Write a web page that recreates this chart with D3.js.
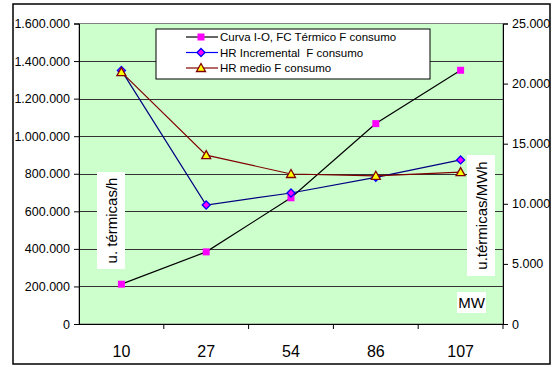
<!DOCTYPE html>
<html>
<head>
<meta charset="utf-8">
<script src="https://cdn.jsdelivr.net/npm/d3@7"></script>
<style>
  html, body { margin: 0; padding: 0; background: #fff; }
  svg { display: block; font-family: "Liberation Sans", Arial, sans-serif; }
  text { white-space: pre; }
</style>
</head>
<body>
<svg id="chart" width="554" height="367"></svg>
<script>
// Potencia de la unidad (MW)
const categories = ["10", "27", "54", "86", "107"];
// Curva entrada-salida (u. térmicas/h), eje izquierdo
const curvaIO = [212000, 384000, 672000, 1067000, 1351000];
// Heat rate incremental y medio (u. térmicas/MWh), eje derecho
const hrIncremental = [21100, 9900, 10900, 12200, 13650];
const hrMedio = [20950, 14050, 12480, 12330, 12630];
const leftTicks = [0, 200000, 400000, 600000, 800000, 1000000, 1200000, 1400000, 1600000];
const rightTicks = [0, 5000, 10000, 15000, 20000, 25000];
const seriesNames = ["Curva I-O, FC Térmico F consumo", "HR Incremental  F consumo", "HR medio F consumo"];

const svg = d3.select("#chart");
const plot = { left: 79, right: 503, top: 23.5, bottom: 324 };

const es = d3.formatLocale({ decimal: ",", thousands: ".", grouping: [3], currency: ["", " €"] });
const fmt = es.format(",");

const x = d3.scaleBand().domain(categories).range([plot.left, plot.right]).padding(0);
const yL = d3.scaleLinear().domain([0, 1600000]).range([plot.bottom, plot.top]);
const yR = d3.scaleLinear().domain([0, 25000]).range([plot.bottom, plot.top]);
const cx = d => x(d) + x.bandwidth() / 2;

// Chart frame
svg.append("rect").attr("x", 13).attr("y", 4).attr("width", 537).attr("height", 360)
  .attr("fill", "#fff").attr("stroke", "#000").attr("stroke-width", 1.5);

// Plot area
svg.append("rect").attr("x", plot.left).attr("y", plot.top)
  .attr("width", plot.right - plot.left).attr("height", plot.bottom - plot.top)
  .attr("fill", "#CCFFCC").attr("stroke", "#808080").attr("stroke-width", 1);

// Horizontal gridlines
svg.append("g").selectAll("line").data(leftTicks.slice(1, -1)).join("line")
  .attr("x1", plot.left).attr("x2", plot.right)
  .attr("y1", d => Math.round(yL(d)) + 0.5).attr("y2", d => Math.round(yL(d)) + 0.5)
  .attr("stroke", "#333").attr("stroke-width", 1);

// Left axis
const axL = svg.append("g").attr("transform", `translate(${plot.left},0)`)
  .call(d3.axisLeft(yL).tickValues(leftTicks).tickFormat(fmt).tickSize(5).tickPadding(4));
axL.selectAll("text").attr("font-size", 12.5).attr("fill", "#000")
  .style("font-family", "'Liberation Sans', Arial, sans-serif");
axL.selectAll("line, path").attr("stroke", "#000");

// Right axis
const axR = svg.append("g").attr("transform", `translate(${plot.right},0)`)
  .call(d3.axisRight(yR).tickValues(rightTicks).tickFormat(fmt).tickSize(5).tickPadding(4));
axR.selectAll("text").attr("font-size", 12.5).attr("fill", "#000")
  .style("font-family", "'Liberation Sans', Arial, sans-serif");
axR.selectAll("line, path").attr("stroke", "#000");

// Bottom axis: line, ticks between categories, centered labels
const gB = svg.append("g");
gB.append("line").attr("x1", plot.left).attr("x2", plot.right)
  .attr("y1", plot.bottom + 0.5).attr("y2", plot.bottom + 0.5).attr("stroke", "#000");
gB.selectAll("line.tk").data(categories).join("line").attr("class", "tk")
  .attr("x1", d => x(d) + x.bandwidth()).attr("x2", d => x(d) + x.bandwidth())
  .attr("y1", plot.bottom).attr("y2", plot.bottom + 5).attr("stroke", "#000");
gB.selectAll("text").data(categories).join("text")
  .attr("x", d => cx(d)).attr("y", 357).attr("text-anchor", "middle")
  .attr("font-size", 16).attr("fill", "#000").text(d => d);

// Series lines
const lineL = d3.line().x((d, i) => cx(categories[i])).y(d => yL(d));
const lineR = d3.line().x((d, i) => cx(categories[i])).y(d => yR(d));

svg.append("path").datum(curvaIO).attr("d", lineL)
  .attr("fill", "none").attr("stroke", "#000").attr("stroke-width", 1.2);
svg.append("path").datum(hrIncremental).attr("d", lineR)
  .attr("fill", "none").attr("stroke", "#000080").attr("stroke-width", 1.2);
svg.append("path").datum(hrMedio).attr("d", lineR)
  .attr("fill", "none").attr("stroke", "#800000").attr("stroke-width", 1.2);

// Marker shapes
const square = (g, px, py) => g.append("rect").attr("x", px - 3.5).attr("y", py - 3.5)
  .attr("width", 7).attr("height", 7).attr("fill", "#FF00FF");
const diamond = (g, px, py) => g.append("path")
  .attr("d", `M${px},${py - 4}L${px + 4},${py}L${px},${py + 4}L${px - 4},${py}Z`)
  .attr("fill", "#FF00FF").attr("stroke", "#0000FF").attr("stroke-width", 1.3);
const triangle = (g, px, py) => g.append("path")
  .attr("d", `M${px},${py - 4.5}L${px + 4.5},${py + 3.5}L${px - 4.5},${py + 3.5}Z`)
  .attr("fill", "#FFFF00").attr("stroke", "#800000").attr("stroke-width", 1.3);

// Markers: squares first, then diamonds, triangles on top
const gM = svg.append("g");
curvaIO.forEach((v, i) => square(gM, cx(categories[i]), yL(v)));
hrIncremental.forEach((v, i) => diamond(gM, cx(categories[i]), yR(v)));
hrMedio.forEach((v, i) => triangle(gM, cx(categories[i]), yR(v)));

// Legend
const lg = svg.append("g");
lg.append("rect").attr("x", 156).attr("y", 29).attr("width", 274).attr("height", 50)
  .attr("fill", "#fff").attr("stroke", "#000").attr("stroke-width", 1);
const legendRows = [
  { name: seriesNames[0], color: "#000", mark: square },
  { name: seriesNames[1], color: "#0000FF", mark: diamond },
  { name: seriesNames[2], color: "#800000", mark: triangle }
];
legendRows.forEach((r, i) => {
  const ly = 37 + i * 15.5;
  lg.append("line").attr("x1", 186).attr("x2", 218).attr("y1", ly).attr("y2", ly)
    .attr("stroke", r.color).attr("stroke-width", 1.2);
  r.mark(lg, 201, ly);
  lg.append("text").attr("x", 220).attr("y", ly + 4).attr("font-size", 11.5)
    .attr("fill", "#000").text(r.name);
});

// Axis titles on white boxes
function boxLabel(bx, by, bw, bh, label, rotate) {
  const g = svg.append("g");
  g.append("rect").attr("x", bx).attr("y", by).attr("width", bw).attr("height", bh).attr("fill", "#fff");
  const tx = bx + bw / 2, ty = by + bh / 2;
  g.append("text").attr("font-size", 15).attr("fill", "#000")
    .attr("text-anchor", "middle").attr("dominant-baseline", "central")
    .attr("transform", rotate ? `translate(${tx},${ty}) rotate(-90)` : `translate(${tx},${ty})`)
    .text(label);
}
boxLabel(97, 172, 28, 97, "u. térmicas/h", true);
boxLabel(467, 155, 28, 121, "u.térmicas/MWh", true);
boxLabel(457, 292, 29, 21, "MW", false);
</script>
</body>
</html>
